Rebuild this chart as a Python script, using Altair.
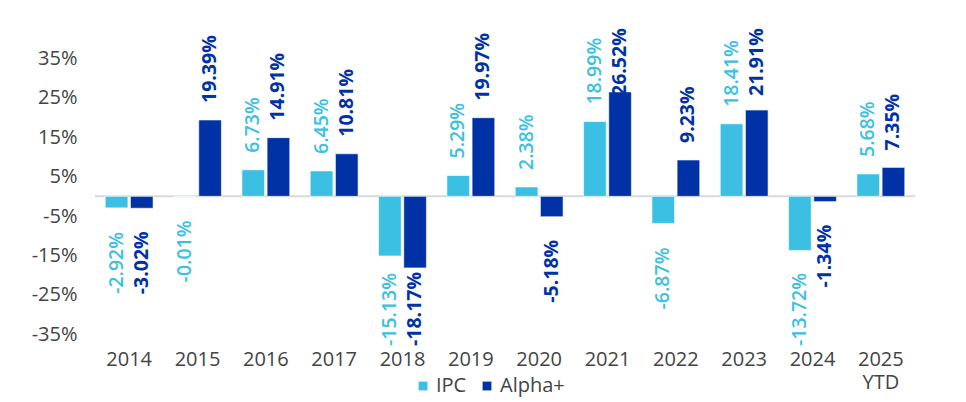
import altair as alt
import pandas as pd

years = ["2014", "2015", "2016", "2017", "2018", "2019", "2020", "2021", "2022", "2023", "2024", "2025\nYTD"]
ipc = [-2.92, -0.01, 6.73, 6.45, -15.13, 5.29, 2.38, 18.99, -6.87, 18.41, -13.72, 5.68]
alpha = [-3.02, 19.39, 14.91, 10.81, -18.17, 19.97, -5.18, 26.52, 9.23, 21.91, -1.34, 7.35]
series = ["IPC", "Alpha+"]
colors = ["#3bbfe2", "#0032a5"]
y_ticks = [-35, -25, -15, -5, 5, 15, 25, 35]

rows = []
for i, y in enumerate(years):
    rows.append({"year": y, "series": "IPC", "value": ipc[i]})
    rows.append({"year": y, "series": "Alpha+", "value": alpha[i]})
df = pd.DataFrame(rows)

W, H = 820, 319
TOP, BOT = 43, -38
PPU = H / (TOP - BOT)  # px per percent
GAP = 17 / PPU
CHAR = 11.5 / PPU
FONT = "Open Sans"
TXT = "#444444"

xenc = alt.X("year:N", sort=years,
             scale=alt.Scale(paddingInner=0.3, paddingOuter=0.15),
             axis=alt.Axis(title=None, labelExpr="split(datum.label, '\\n')",
                           labelAngle=0, domain=False, ticks=False, labelPadding=3,
                           labelFontSize=20, labelColor=TXT, labelFont=FONT,
                           labelLineHeight=23))
yscale = alt.Scale(domain=[BOT, TOP], nice=False)
xoff = alt.XOffset("series:N", sort=series, scale=alt.Scale(paddingInner=0.1))
cscale = alt.Scale(domain=series, range=colors)
color = alt.Color("series:N", sort=series, scale=cscale,
                  legend=alt.Legend(title=None, orient="none", direction="horizontal",
                                    legendX=318, legendY=349, symbolType="square",
                                    symbolSize=90, symbolStrokeWidth=0, labelFontSize=20,
                                    labelFont=FONT, labelColor=TXT, columnPadding=10,
                                    labelOffset=3))

bars = alt.Chart(df).mark_bar().encode(
    x=xenc,
    xOffset=xoff,
    y=alt.Y("value:Q", scale=yscale,
            axis=alt.Axis(title=None, values=y_ticks,
                          labelExpr="datum.value + '%'", grid=False, domain=False,
                          ticks=False, labelPadding=18, labelFontSize=20,
                          labelColor=TXT, labelFont=FONT)),
    color=color,
)

zero = alt.Chart(pd.DataFrame({"z": [0]})).mark_rule(color="#d9d9d9", strokeWidth=2).encode(
    y=alt.Y("z:Q", scale=yscale)
)


def label_layer(name, weight):
    return alt.Chart(df).transform_filter(
        alt.datum.series == name
    ).transform_calculate(
        label="replace(format(datum.value, '.2f'), '\u2212', '-') + '%'"
    ).transform_calculate(
        L="length(datum.label) * " + str(CHAR)
    ).transform_calculate(
        pos="datum.value >= 0 ? min(datum.value + %f, %f - datum.L) : max(datum.value - %f - datum.L, %f)"
            % (GAP, TOP, GAP, BOT)
    ).mark_text(angle=270, align="left", baseline="middle", fontSize=19.5, font=FONT,
                fontWeight=weight).encode(
        x=alt.X("year:N", sort=years),
        xOffset=xoff,
        y=alt.Y("pos:Q", scale=yscale),
        text="label:N",
        color=alt.Color("series:N", sort=series, scale=cscale, legend=None),
    )


chart = alt.layer(zero, bars, label_layer("IPC", 600), label_layer("Alpha+", "bold")).properties(
    width=W, height=H,
    autosize=alt.AutoSizeParams(type="none"),
    padding={"left": 87, "top": 19, "right": 40, "bottom": 55},
).configure_view(stroke=None).configure_bar(stroke="#ffffff", strokeWidth=0.6)

chart.save("out.html", embed_options={"renderer": "svg", "actions": False})
